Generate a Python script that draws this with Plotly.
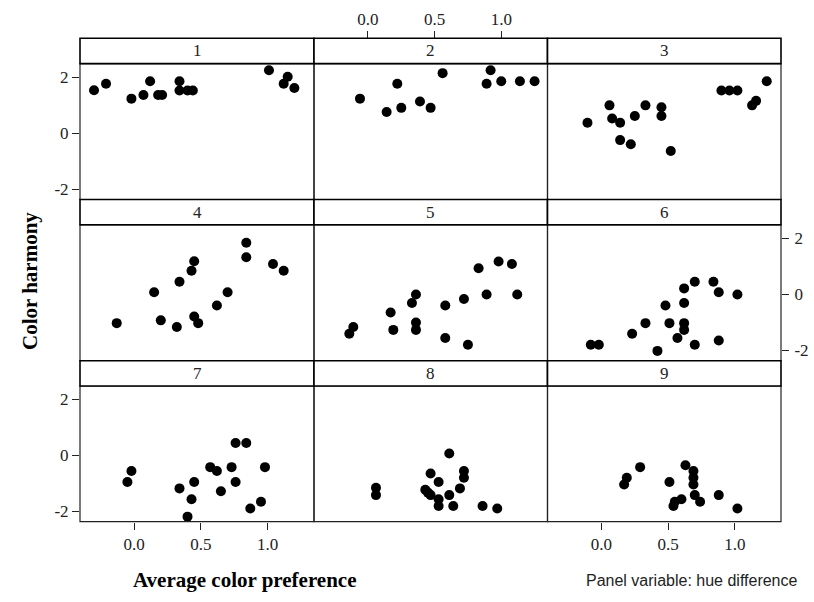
import plotly.graph_objects as go

W, H = 814, 602

# ---- data (hue difference panels 1..9) ----
p1_x = [-0.30, -0.21, -0.02, 0.07, 0.12, 0.18, 0.21, 0.34, 0.34, 0.40, 0.44, 1.01, 1.15, 1.12, 1.20]
p1_y = [1.53, 1.76, 1.23, 1.36, 1.85, 1.36, 1.36, 1.85, 1.52, 1.52, 1.52, 2.24, 2.01, 1.76, 1.61]
p2_x = [-0.06, 0.14, 0.22, 0.25, 0.39, 0.47, 0.56, 0.92, 0.89, 1.00, 1.14, 1.25]
p2_y = [1.23, 0.75, 1.76, 0.90, 1.13, 0.90, 2.14, 2.24, 1.76, 1.85, 1.85, 1.85]
p3_x = [-0.105, 0.06, 0.08, 0.14, 0.14, 0.22, 0.25, 0.33, 0.45, 0.45, 0.52, 0.90, 0.96, 1.02, 1.13, 1.16, 1.24]
p3_y = [0.37, 0.99, 0.52, 0.37, -0.25, -0.40, 0.61, 0.99, 0.92, 0.61, -0.64, 1.52, 1.52, 1.52, 0.99, 1.15, 1.85]
p4_x = [-0.13, 0.15, 0.20, 0.32, 0.34, 0.43, 0.45, 0.45, 0.48, 0.62, 0.70, 0.84, 0.84, 1.04, 1.12]
p4_y = [-1.03, 0.07, -0.93, -1.17, 0.45, 0.84, 1.18, -0.79, -1.03, -0.40, 0.07, 1.84, 1.32, 1.08, 0.84]
p5_x = [-0.14, -0.11, 0.17, 0.19, 0.33, 0.36, 0.36, 0.36, 0.58, 0.58, 0.72, 0.75, 0.83, 0.89, 0.98, 1.08, 1.12]
p5_y = [-1.41, -1.17, -0.65, -1.27, -0.31, -0.01, -1.01, -1.27, -0.40, -1.56, -0.17, -1.80, 0.93, -0.01, 1.17, 1.08, -0.01]
p6_x = [-0.08, -0.02, 0.23, 0.33, 0.42, 0.48, 0.51, 0.57, 0.62, 0.62, 0.62, 0.62, 0.70, 0.70, 0.84, 0.88, 0.88, 1.02]
p6_y = [-1.80, -1.80, -1.41, -1.03, -2.02, -0.40, -1.03, -1.56, 0.21, -0.31, -1.03, -1.27, 0.45, -1.80, 0.45, 0.07, -1.65, -0.01]
p7_x = [-0.05, -0.02, 0.34, 0.40, 0.43, 0.45, 0.57, 0.62, 0.65, 0.73, 0.76, 0.76, 0.84, 0.87, 0.95, 0.98]
p7_y = [-0.95, -0.56, -1.18, -2.19, -1.57, -0.95, -0.42, -0.56, -1.28, -0.42, 0.44, -0.95, 0.44, -1.90, -1.66, -0.42]
p8_x = [0.06, 0.06, 0.43, 0.45, 0.47, 0.47, 0.53, 0.53, 0.53, 0.61, 0.61, 0.64, 0.69, 0.72, 0.72, 0.86, 0.97]
p8_y = [-1.16, -1.42, -1.23, -1.33, -0.65, -1.42, -0.95, -1.57, -1.81, 0.07, -1.42, -1.81, -1.18, -0.56, -0.80, -1.81, -1.90]
p9_x = [0.17, 0.19, 0.29, 0.51, 0.54, 0.55, 0.60, 0.63, 0.69, 0.69, 0.69, 0.70, 0.74, 0.88, 1.02]
p9_y = [-1.04, -0.80, -0.42, -0.95, -1.81, -1.66, -1.57, -0.35, -0.56, -0.80, -1.04, -1.42, -1.66, -1.42, -1.90]

panel_labels = ["1", "2", "3", "4", "5", "6", "7", "8", "9"]
xs = [p1_x, p2_x, p3_x, p4_x, p5_x, p6_x, p7_x, p8_x, p9_x]
ys = [p1_y, p2_y, p3_y, p4_y, p5_y, p6_y, p7_y, p8_y, p9_y]
x_ticks = [0.0, 0.5, 1.0]
x_tick_text = ["0.0", "0.5", "1.0"]
y_ticks = [-2, 0, 2]
y_tick_text = ["-2", "0", "2"]

# ---- layout geometry (pixels) ----
col_edges = [80, 314, 547.5, 781]
row_strip_top = [38.3, 199.5, 360.7]
strip_h = 25.3
row_bottom = [199.5, 360.7, 521.7]
XR = [-0.405, 1.347]
YR = [-2.37, 2.48]

def px_x(v):
    return v / W

def px_y(v):
    return 1 - v / H

serif = "Liberation Serif"
fig = go.Figure()
layout = dict(
    width=W, height=H, margin=dict(l=0, r=0, t=0, b=0),
    paper_bgcolor="white", plot_bgcolor="white", showlegend=False,
)
shapes = []
annotations = []
tick_font = dict(family=serif, size=17, color="#222")

for i in range(9):
    r, c = i // 3, i % 3
    n = i + 1
    xa = "x" if n == 1 else f"x{n}"
    ya = "y" if n == 1 else f"y{n}"
    xkey = "xaxis" if n == 1 else f"xaxis{n}"
    ykey = "yaxis" if n == 1 else f"yaxis{n}"
    x0, x1 = col_edges[c], col_edges[c + 1]
    ptop = row_strip_top[r] + strip_h
    pbot = row_bottom[r]
    fig.add_trace(go.Scatter(
        x=xs[i], y=ys[i], mode="markers", xaxis=xa, yaxis=ya,
        marker=dict(color="black", size=10, line=dict(width=0)),
        cliponaxis=False,
    ))
    xax = dict(domain=[px_x(x0), px_x(x1)], range=XR, showgrid=False, zeroline=False,
               showline=False, tickvals=x_ticks, ticktext=x_tick_text,
               tickfont=tick_font, ticks="", showticklabels=False, anchor=ya)
    yax = dict(domain=[px_y(pbot), px_y(ptop)], range=YR, showgrid=False, zeroline=False,
               showline=False, tickvals=y_ticks, ticktext=y_tick_text,
               tickfont=tick_font, ticks="", showticklabels=False, anchor=xa)
    if r == 2 and c in (0, 2):
        xax.update(ticks="outside", ticklen=7, tickcolor="#222", showticklabels=True,
                   side="bottom", ticklabelstandoff=0)
    if r == 0 and c == 1:
        xax.update(ticks="outside", ticklen=7, tickcolor="#222", showticklabels=True,
                   side="top", anchor="free", position=px_y(row_strip_top[0]),
                   ticklabelstandoff=0)
    if c == 0 and r in (0, 2):
        yax.update(ticks="outside", ticklen=7, tickcolor="#222", showticklabels=True,
                   side="left", ticklabelstandoff=0)
    if c == 2 and r == 1:
        yax.update(ticks="outside", ticklen=7, tickcolor="#222", showticklabels=True,
                   side="right", ticklabelstandoff=2)
    layout[xkey] = xax
    layout[ykey] = yax
    # panel border
    shapes.append(dict(type="rect", xref="paper", yref="paper",
                       x0=px_x(x0), x1=px_x(x1), y0=px_y(pbot), y1=px_y(ptop),
                       line=dict(color="#222", width=1.2), fillcolor="rgba(0,0,0,0)", layer="above"))
    # strip
    shapes.append(dict(type="rect", xref="paper", yref="paper",
                       x0=px_x(x0), x1=px_x(x1), y0=px_y(ptop), y1=px_y(row_strip_top[r]),
                       line=dict(color="black", width=1.6), fillcolor="white", layer="above"))
    annotations.append(dict(text=panel_labels[i], xref="paper", yref="paper",
                            x=px_x((x0 + x1) / 2), y=px_y(row_strip_top[r] + strip_h / 2),
                            xanchor="center", yanchor="middle", showarrow=False,
                            font=dict(family=serif, size=17, color="#222")))

annotations.append(dict(text="<b>Color harmony</b>", xref="paper", yref="paper",
                        x=px_x(30), y=px_y(281), textangle=-90, showarrow=False,
                        xanchor="center", yanchor="middle",
                        font=dict(family=serif, size=21, color="black")))
annotations.append(dict(text="<b>Average color preference</b>", xref="paper", yref="paper",
                        x=px_x(245), y=px_y(580), showarrow=False,
                        xanchor="center", yanchor="middle",
                        font=dict(family=serif, size=21, color="black")))
annotations.append(dict(text="Panel variable: hue difference", xref="paper", yref="paper",
                        x=px_x(692), y=px_y(580), showarrow=False,
                        xanchor="center", yanchor="middle",
                        font=dict(family="Liberation Sans", size=16, color="#222")))

layout["shapes"] = shapes
layout["annotations"] = annotations
fig.update_layout(**layout)
fig.write_html("out.html")
